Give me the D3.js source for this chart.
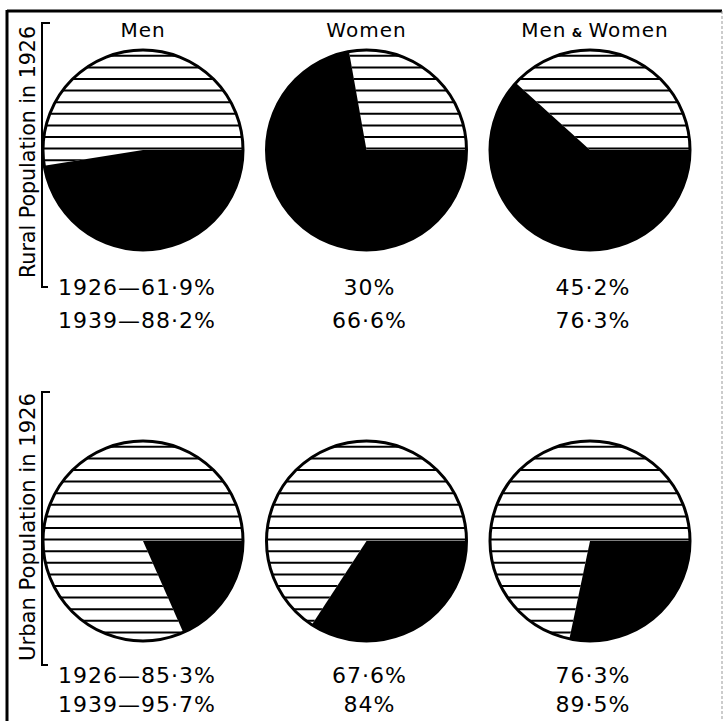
<!DOCTYPE html>
<html>
<head>
<meta charset="utf-8">
<script src="https://cdn.jsdelivr.net/npm/d3@7"></script>
<style>
    body { margin: 0; background: #fff; }
    text { font-family: "DejaVu Sans", sans-serif; fill: #000; }
</style>
</head>
<body>
<div id="chart"></div>
<script>
// donnees du graphique
const groupes = ["Men", "Women", "Men & Women"];
const populations = ["Rural Population in 1926", "Urban Population in 1926"];

// pourcentages ecrits sous les cercles
const rural1926 = [61.9, 30, 45.2];
const rural1939 = [88.2, 66.6, 76.3];
const urban1926 = [85.3, 67.6, 76.3];
const urban1939 = [95.7, 84, 89.5];

// part hachuree telle que dessinee sur les cercles (%)
const ruralHachure = [52.5, 27.8, 38.3];
const urbanHachure = [81.6, 65.8, 71.7];

const width = 724;
const height = 721;
const radius = 100;
const pasHachure = 11.6;

const svg = d3.select("#chart")
    .append("svg")
    .attr("width", width)
    .attr("height", height);

// cadre (haut, gauche, droite)
svg.append("line").attr("x1", 7).attr("x2", 722).attr("y1", 11).attr("y2", 11)
    .attr("stroke", "#000").attr("stroke-width", 3);
svg.append("line").attr("x1", 7).attr("x2", 7).attr("y1", 10).attr("y2", height)
    .attr("stroke", "#000").attr("stroke-width", 3);
svg.append("line").attr("x1", 722).attr("x2", 722).attr("y1", 11).attr("y2", height)
    .attr("stroke", "#999").attr("stroke-width", 1).attr("stroke-dasharray", "3,2");

const x = d3.scalePoint().domain(groupes).range([143, 590]);
const y = d3.scalePoint().domain(populations).range([150, 541]);

const arc = d3.arc().innerRadius(0).outerRadius(radius);

// titres des colonnes
groupes.forEach(g => {
    const t = svg.append("text")
        .attr("x", x(g) + (g.includes("&") ? 5 : 0))
        .attr("y", 37)
        .attr("text-anchor", "middle")
        .style("font-size", "20px")
        .style("letter-spacing", "1px");
    const morceaux = g.split(" & ");
    t.append("tspan").text(morceaux[0]);
    if (morceaux.length > 1) {
        t.append("tspan").text(" & ").style("font-size", "12px").style("font-weight", "bold");
        t.append("tspan").text(morceaux[1]);
    }
});

// etiquettes verticales + crochets
const etiquettes = [
    {nom: populations[0], haut: 26, bas: 278, crochetHaut: 23, crochetBas: 287},
    {nom: populations[1], haut: 393, bas: 661, crochetHaut: 392, crochetBas: 665}
];
etiquettes.forEach(e => {
    svg.append("text")
        .attr("transform", `translate(35, ${(e.haut + e.bas) / 2}) rotate(-90)`)
        .attr("text-anchor", "middle")
        .attr("textLength", e.bas - e.haut)
        .attr("lengthAdjust", "spacingAndGlyphs")
        .style("font-size", "21px")
        .text(e.nom);
    svg.append("path")
        .attr("d", `M50,${e.crochetHaut} H42 V${e.crochetBas} H48`)
        .attr("fill", "none")
        .attr("stroke", "#000")
        .attr("stroke-width", 2);
});

const lignes = [
    {pop: populations[0], hachure: ruralHachure, a: rural1926, b: rural1939, dy1: 145, dy2: 178},
    {pop: populations[1], hachure: urbanHachure, a: urban1926, b: urban1939, dy1: 142, dy2: 171}
];

const fmt = v => String(v).replace(".", "·") + "%";

lignes.forEach((l, li) => {
    groupes.forEach((g, gi) => {
        const cx = x(g);
        const cy = y(l.pop);
        const part = l.hachure[gi] / 100;
        // la partie hachuree finit a 3 heures
        const depart = Math.PI / 2 - part * 2 * Math.PI;
        const pie = d3.pie().sort(null)
            .startAngle(depart)
            .endAngle(depart + 2 * Math.PI);
        const parts = pie([part, 1 - part]);

        const grp = svg.append("g").attr("transform", `translate(${cx}, ${cy})`);
        const idClip = `clip-${li}-${gi}`;
        grp.append("clipPath").attr("id", idClip)
            .append("path").attr("d", arc(parts[0]));

        // hachures horizontales
        const ys = d3.range(-radius + pasHachure / 2, radius, pasHachure);
        grp.append("g").attr("clip-path", `url(#${idClip})`)
            .selectAll("line")
            .data(ys)
            .enter()
            .append("line")
            .attr("x1", -radius).attr("x2", radius)
            .attr("y1", d => d).attr("y2", d => d)
            .attr("stroke", "#000")
            .attr("stroke-width", 2);

        // partie noire
        grp.append("path")
            .attr("d", arc(parts[1]))
            .attr("fill", "#000");

        // contour
        grp.append("circle")
            .attr("r", radius)
            .attr("fill", "none")
            .attr("stroke", "#000")
            .attr("stroke-width", 3);

        // textes sous le cercle
        const prefixe1 = gi === 0 ? "1926—" : "";
        const prefixe2 = gi === 0 ? "1939—" : "";
        const decal = gi === 0 ? -6 : 3;
        svg.append("text")
            .attr("x", cx + decal).attr("y", cy + l.dy1)
            .attr("text-anchor", "middle")
            .style("font-size", "22px")
            .style("letter-spacing", "1px")
            .text(prefixe1 + fmt(l.a[gi]));
        svg.append("text")
            .attr("x", cx + decal).attr("y", cy + l.dy2)
            .attr("text-anchor", "middle")
            .style("font-size", "22px")
            .style("letter-spacing", "1px")
            .text(prefixe2 + fmt(l.b[gi]));
    });
});
</script>
</body>
</html>
